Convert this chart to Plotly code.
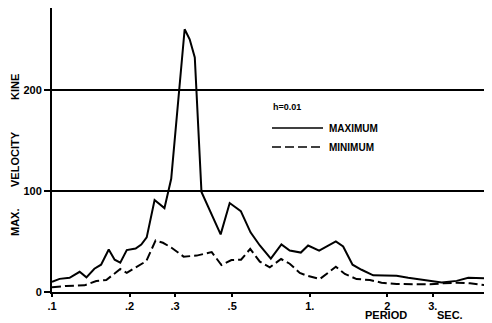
import plotly.graph_objects as go

# ---- data ----
max_period = [0.100, 0.107, 0.117, 0.128, 0.136, 0.146, 0.155, 0.166, 0.175, 0.184,
              0.195, 0.211, 0.222, 0.233, 0.250, 0.273, 0.290, 0.327, 0.342, 0.358,
              0.380, 0.451, 0.489, 0.540, 0.589, 0.640, 0.706, 0.776, 0.836, 0.923,
              0.985, 1.087, 1.262, 1.347, 1.465, 1.588, 1.762, 1.956, 2.171, 2.408,
              2.674, 3.247, 3.713, 4.119, 5.0]
max_velocity = [10, 13, 14, 20, 14.5, 23, 27, 42, 32, 29,
                41.5, 43, 47, 54, 91, 83, 112, 260, 250, 232,
                99, 57, 88, 80, 59, 46, 33, 47, 41, 39,
                46, 41, 50, 45, 27, 22, 16.5, 16.5, 16, 14,
                12.5, 9.5, 11, 14, 13.5]

min_period = [0.100, 0.1135, 0.1337, 0.1485, 0.1624, 0.184, 0.195, 0.2135, 0.2322, 0.2523,
              0.2694, 0.290, 0.324, 0.364, 0.4164, 0.4542, 0.4966, 0.5411, 0.5873, 0.640,
              0.6995, 0.7737, 0.836, 0.9146, 0.985, 1.0935, 1.262, 1.3677, 1.519, 1.710,
              1.898, 2.171, 2.445, 2.924, 3.294, 3.713, 4.182, 5.0]
min_velocity = [4.6, 6, 6.6, 10.9, 11.9, 22.7, 19, 25, 30.6, 51,
                48.7, 44, 35, 36, 39.5, 26.7, 31.6, 32, 42.6, 30,
                24.4, 32.6, 28, 18.8, 15.8, 12.8, 25, 17.8, 12.8, 11.9,
                9.2, 7.9, 7.6, 7.6, 8.6, 9.2, 8.6, 6.3]

x_tick_vals = [0.1, 0.2, 0.3, 0.5, 1, 2, 3, 5]
x_tick_text = [".1", ".2", ".3", ".5", "1.", "2", "3.", "5"]
y_tick_vals = [0, 100, 200]
y_tick_text = ["0", "100", "200"]

FONT = "Liberation Sans"

# The page body has an 8px margin, so the figure is 8px smaller and
# margins are reduced to keep the plot area where the reference has it.
fig = go.Figure()
fig.add_trace(go.Scatter(x=max_period, y=max_velocity, mode="lines",
                         line=dict(color="black", width=2), name="MAXIMUM"))
fig.add_trace(go.Scatter(x=min_period, y=min_velocity, mode="lines",
                         line=dict(color="black", width=2, dash="9px,4px"), name="MINIMUM"))

fig.update_layout(
    width=484, height=315,
    margin=dict(l=44, r=2, t=0, b=31, autoexpand=False),
    paper_bgcolor="white", plot_bgcolor="white",
    showlegend=False,
    font=dict(family=FONT, color="black"),
)
fig.update_xaxes(
    type="log", range=[-1, 0.699],
    tickvals=x_tick_vals, ticktext=x_tick_text,
    tickfont=dict(family=FONT, size=11, weight="bold", color="black"),
    ticklabeloverflow="allow",
    showgrid=False, zeroline=False,
    showline=True, linecolor="black", linewidth=2,
    ticks="outside", ticklen=3, tickwidth=2, tickcolor="black",
    automargin=False,
)
fig.update_yaxes(
    range=[0, 281],
    tickvals=y_tick_vals, ticktext=y_tick_text,
    tickfont=dict(family=FONT, size=11, weight="bold", color="black"),
    showgrid=True, gridcolor="black", gridwidth=1.5,
    zeroline=False,
    showline=True, linecolor="black", linewidth=2, mirror=True,
    ticks="outside", ticklen=6, tickwidth=2, tickcolor="black",
    automargin=False,
)

# helpers: page pixel -> paper fraction (plot area is x 52..490, y 8..292 on the page)
def px_x(px):
    return (px - 52) / 438.0

def px_y(py):
    return (292 - py) / 284.0

def label(text, px, py, size, xanchor="center", angle=0):
    fig.add_annotation(text=f"<b>{text}</b>", x=px_x(px), y=px_y(py),
                       xref="paper", yref="paper", textangle=angle,
                       xanchor=xanchor, yanchor="middle", showarrow=False,
                       font=dict(family=FONT, size=size, color="black"))

# y axis title words
for word, cy in [("MAX.", 222), ("VELOCITY", 159), ("KINE", 87)]:
    label(word, 15, cy, 11, angle=-90)

# x axis title
label("PERIOD", 386, 314.5, 11)
label("SEC.", 450, 314.5, 11)

# legend
label("h=0.01", 271, 107, 9, xanchor="left")
label("MAXIMUM", 327, 128, 10, xanchor="left")
label("MINIMUM", 327, 147, 10, xanchor="left")
fig.add_shape(type="line", xref="paper", yref="paper", x0=px_x(272), x1=px_x(323),
              y0=px_y(128), y1=px_y(128), line=dict(color="black", width=1.5))
fig.add_shape(type="line", xref="paper", yref="paper", x0=px_x(272), x1=px_x(323),
              y0=px_y(147), y1=px_y(147), line=dict(color="black", width=1.5, dash="9px,4px"))

fig.write_html("out.html")
